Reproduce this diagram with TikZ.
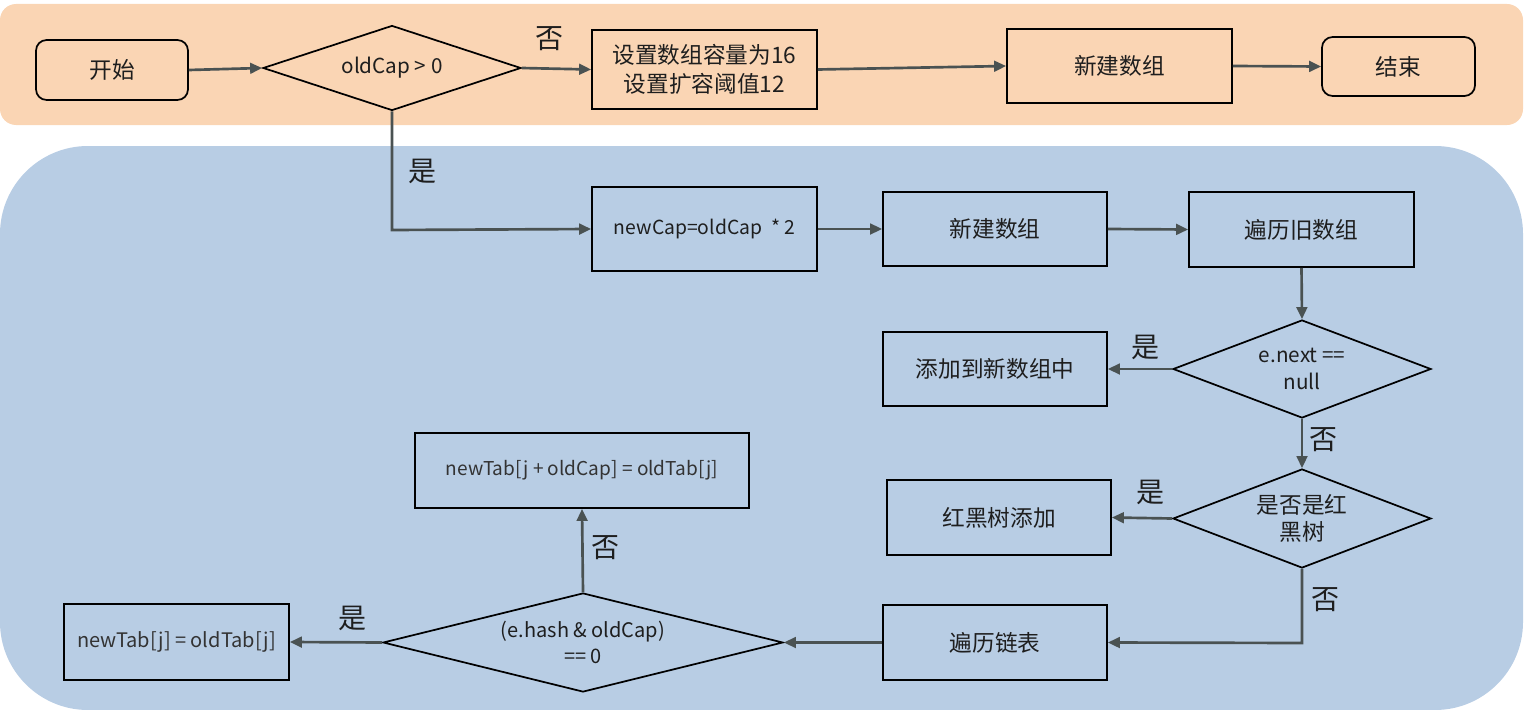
\documentclass[tikz,border=0pt]{standalone}
\usepackage{fontspec}
\setmainfont{Noto Sans CJK SC}
\usetikzlibrary{shapes.geometric,arrows.meta}
\definecolor{peach}{HTML}{FAD5B4}
\definecolor{bandblue}{HTML}{B8CDE4}
\definecolor{linegray}{HTML}{4A5252}
\definecolor{txt}{HTML}{1E1E1E}
\newcommand\pxu{0.75pt}
\tikzset{
  box/.style={draw=black, line width=1.3pt, rectangle, inner sep=0pt, text=txt, font=\fontsize{17}{22}\selectfont, align=center},
  rbox/.style={box, rounded corners=8pt},
  dia/.style={draw=black, line width=1.3pt, diamond, inner sep=0pt, text=txt, font=\fontsize{15.5}{20}\selectfont, align=center},
  cjkdia/.style={dia, font=\fontsize{17}{20}\selectfont},
  code/.style={font=\fontsize{14.5}{19}\selectfont},
  conn/.style={draw=linegray, line width=2pt, -{Triangle[length=9pt,width=8pt]}},
  lab/.style={text=txt, font=\fontsize{21}{22}\selectfont, inner sep=0pt},
}
\begin{document}
\begin{tikzpicture}[x=0.75pt,y=-0.75pt]
\useasboundingbox (0,0) rectangle (1524,710);
% bands
\fill[peach, rounded corners=12pt] (0,4) rectangle (1523,125);
\fill[bandblue, rounded corners=66pt] (0,146) rectangle (1523,710);
% top row
\node[rbox, minimum width=152*\pxu, minimum height=60*\pxu] (start) at (112,70) {开始};
\node[dia, shape aspect=3, minimum width=258*\pxu, minimum height=85*\pxu] (d0) at (392,68) {oldCap > 0};
\node[box, minimum width=225*\pxu, minimum height=79*\pxu] (init) at (704.5,69.5) {设置数组容量为16\\设置扩容阈值12};
\node[box, minimum width=225*\pxu, minimum height=74*\pxu] (new1) at (1119.5,66) {新建数组};
\node[rbox, minimum width=153*\pxu, minimum height=59*\pxu] (end) at (1398.5,66.5) {结束};
\draw[conn] (start.east) -- (d0.west);
\draw[conn] (d0.east) -- (init.west);
\node[lab] (l0) at (549,39) {否};
\draw[conn] (init.east) -- (new1.west);
\draw[conn] (new1.east) -- (end.west);
% second row
\node[box, code, minimum width=225*\pxu, minimum height=84*\pxu] (cap) at (704.5,229) {newCap=oldCap\ \ * 2};
\node[box, minimum width=224*\pxu, minimum height=74*\pxu] (new2) at (995,229) {新建数组};
\node[box, minimum width=225*\pxu, minimum height=75*\pxu] (trav) at (1301.5,229.5) {遍历旧数组};
\coordinate (c1) at (392,230);
\draw[conn] (d0.south) -- (c1) -- (cap.west);
\node[lab] (l1) at (422,171) {是};
\draw[conn] (cap.east) -- (new2.west);
\draw[conn] (new2.east) -- (trav.west);
% e.next
\node[dia, shape aspect=2.6, minimum width=258*\pxu, minimum height=98*\pxu] (d1) at (1302,369) {e.next ==\\null};
\node[box, minimum width=224*\pxu, minimum height=74*\pxu] (add) at (995,369) {添加到新数组中};
\draw[conn] (trav.south) -- (d1.north);
\draw[conn] (d1.west) -- (add.east);
\node[lab] (l2) at (1145,347) {是};
% red-black
\node[cjkdia, shape aspect=2.6, minimum width=258*\pxu, minimum height=99*\pxu] (d2) at (1302,518.5) {是否是红\\黑树};
\node[box, minimum width=224*\pxu, minimum height=75*\pxu] (rb) at (999,517.5) {红黑树添加};
\draw[conn] (d1.south) -- (d2.north);
\node[lab] (l3) at (1323,440) {否};
\draw[conn] (d2.west) -- (rb.east);
\node[lab] (l4) at (1150,492) {是};
% linked list
\node[box, minimum width=224*\pxu, minimum height=75*\pxu] (list) at (995,642.5) {遍历链表};
\coordinate (c2) at (1302,643);
\draw[conn] (d2.south) -- (c2) -- (list.east);
\node[lab] (l5) at (1325,600) {否};
\node[dia, shape aspect=4, font=\fontsize{15}{20}\selectfont, minimum width=400*\pxu, minimum height=99*\pxu] (d3) at (583,642.5) {(e.hash \& oldCap)\\== 0};
\draw[conn] (list.west) -- (d3.east);
\node[box, minimum width=225*\pxu, minimum height=76*\pxu, font=\fontsize{15}{18}\selectfont, text=black!80] (lo) at (176.5,642) {newTab[j] = oldTab[j]};
\draw[conn] (d3.west) -- (lo.east);
\node[lab] (l6) at (352,618) {是};
\node[box, minimum width=334*\pxu, minimum height=75*\pxu, font=\fontsize{14.3}{18}\selectfont, text=black!80] (hi) at (582,470.5) {newTab[j + oldCap] = oldTab[j]};
\draw[conn] (d3.north) -- (hi.south);
\node[lab] (l7) at (605,548) {否};
\end{tikzpicture}
\end{document}
